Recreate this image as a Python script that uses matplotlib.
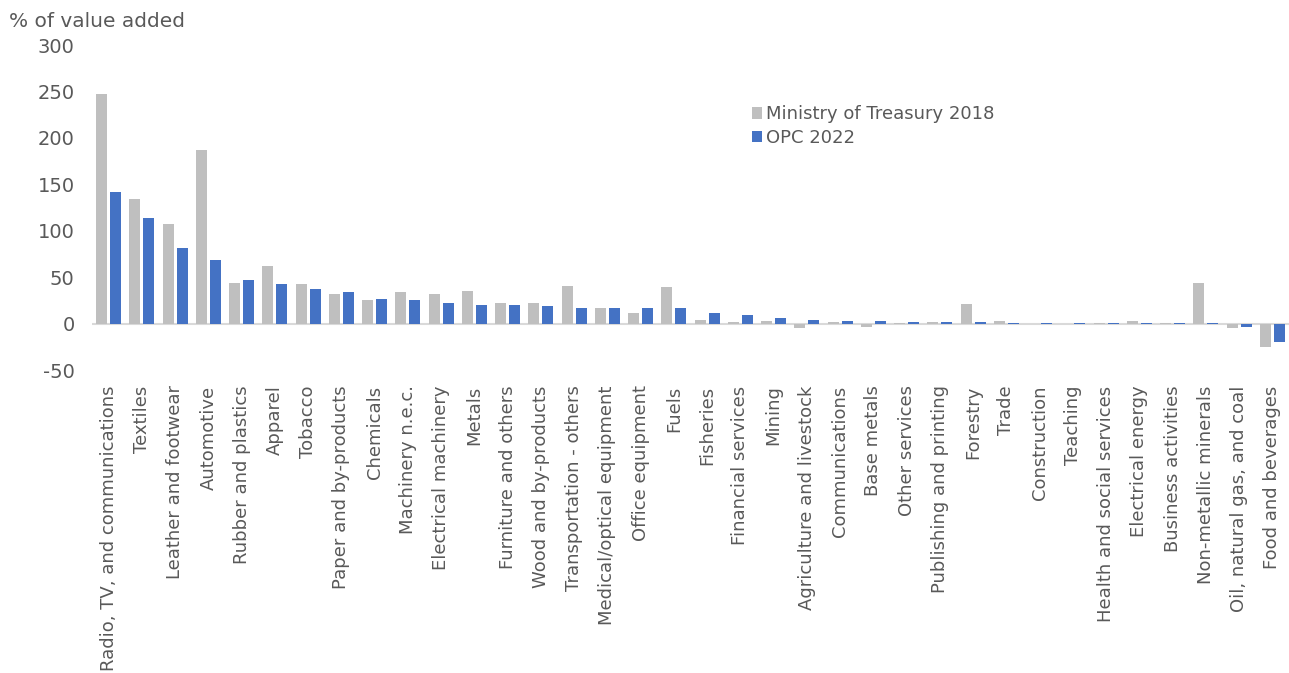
import matplotlib
matplotlib.use("Agg")
import matplotlib.pyplot as plt
import numpy as np

# Effective rate of protection by sector, % of value added
sectors = [
    "Radio, TV, and communications", "Textiles", "Leather and footwear",
    "Automotive", "Rubber and plastics", "Apparel", "Tobacco",
    "Paper and by-products", "Chemicals", "Machinery n.e.c.",
    "Electrical machinery", "Metals", "Furniture and others",
    "Wood and by-products", "Transportation - others",
    "Medical/optical equipment", "Office equipment", "Fuels", "Fisheries",
    "Financial services", "Mining", "Agriculture and livestock",
    "Communications", "Base metals", "Other services",
    "Publishing and printing", "Forestry", "Trade", "Construction",
    "Teaching", "Health and social services", "Electrical energy",
    "Business activities", "Non-metallic minerals",
    "Oil, natural gas, and coal", "Food and beverages",
]
treasury_2018 = [247, 134, 107, 187, 44, 62, 43, 32, 25, 34,
                 32, 35, 22, 22, 41, 17, 11, 40, 4, 2,
                 3, -5, 1.5, -3.5, 0.3, 1.5, 21, 2.5, 0.2,
                 0.2, 0.3, 3.4, 0.3, 44, -5, -25.5]
opc_2022 = [142, 114, 81, 69, 47, 43, 37, 34, 26.5, 26,
            22, 20.5, 20, 18.7, 17.3, 17, 16.5, 16.5, 12, 9.7,
            6, 4, 3, 2.7, 2, 2, 2, 1, 1,
            1, 1, 0.5, 1, 0.5, -3.7, -20]

grey = "#bfbfbf"
blue = "#4472c4"
text_col = "#595959"

plt.rcParams["font.family"] = ["DejaVu Sans"]
plt.rcParams["axes.unicode_minus"] = False

fig = plt.figure(figsize=(12.89, 6.73), dpi=100)
ax = fig.add_axes([0.0714, 0.450, 0.9286, 0.483])

x = np.arange(len(sectors))
w = 0.33
ax.bar(x - 0.21, treasury_2018, width=w, color=grey, label="Ministry of Treasury 2018", zorder=2)
ax.bar(x + 0.21, opc_2022, width=w, color=blue, label="OPC 2022", zorder=2)

ax.axhline(0, color="#d9d9d9", linewidth=1.5, zorder=1)

ax.set_xlim(-0.5, len(sectors) - 0.5)
ax.set_ylim(-50, 300)
ax.set_yticks(np.arange(-50, 301, 50))
ax.set_xticks(x)
ax.set_xticklabels(sectors, rotation=90, ha="center", va="top", fontsize=13, color=text_col)
ax.tick_params(axis="x", length=0, pad=11)
ax.tick_params(axis="y", length=0, pad=12.5, labelsize=14, labelcolor=text_col)
for s in ax.spines.values():
    s.set_visible(False)

fig.text(0.007, 0.968, "% of value added", fontsize=14.5, color=text_col, va="center", ha="left")

ax.legend(loc="upper left", bbox_to_anchor=(0.545, 0.837), frameon=False,
          fontsize=13, labelcolor=text_col, handlelength=0.6, handleheight=0.6,
          handletextpad=0.2, labelspacing=0.3, borderaxespad=0)

fig.savefig("out.png", dpi=100)
